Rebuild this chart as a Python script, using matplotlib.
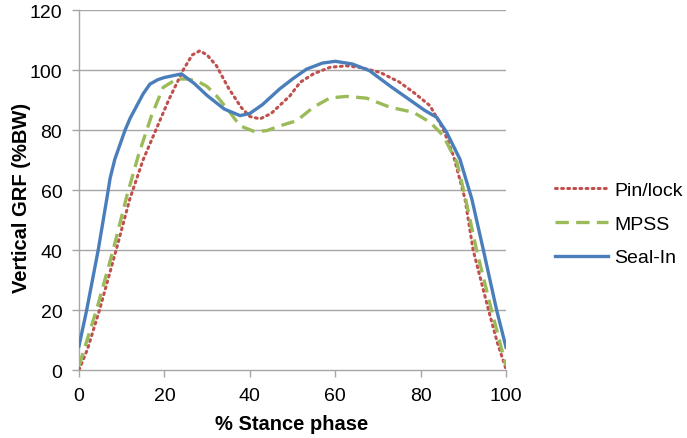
import matplotlib
matplotlib.use("Agg")
import matplotlib.pyplot as plt

plt.rcParams['font.family'] = ['Liberation Sans', 'DejaVu Sans']

# Seal-In (blue, solid)
seal_x = [0, 1.8, 4.5, 6.5, 7.3, 8.4, 10.8, 12, 13.5, 15, 16.6, 18.5, 20, 24, 27, 30, 34, 37.7, 40, 43, 47, 50, 53.3, 57, 60,
          64, 68, 73, 78.3, 81, 83.8, 86.1, 89.2, 92, 94.7, 97.8, 100]
seal_y = [8, 20, 40, 57, 64, 70.3, 80, 84, 88, 92, 95.3, 96.8, 97.5, 98.7, 95.5, 91.5, 87, 84.8, 85.5, 88.5, 93.7, 97, 100.3, 102.3, 102.9,
          102, 99.8, 94.5, 89.2, 86.5, 84.2, 79.2, 70.3, 57, 40, 20, 7.6]

# Pin/lock (red, dotted)
pin_x = [0, 2, 4.8, 8.7, 11.9, 15, 18, 21, 24.4, 26.5, 28.3, 30, 32.2, 35, 38, 40, 42.4, 45, 49.4, 51.8,
         55, 58.8, 62.7, 66, 70.5, 75, 78.3, 82.2, 85.3, 87.7, 90.4, 92.3, 95.9, 98, 100]
pin_y = [0, 7, 20, 40, 57, 70, 80, 90, 100, 105, 106.4, 105, 101.4, 94, 87.5, 84.5, 83.7, 85.5, 91.4, 95.9,
         98.8, 100.9, 101.4, 100.8, 99.2, 96, 92.6, 88.1, 80.3, 71.4, 57, 40, 20, 9, 0.3]

# MPSS (green, dashed)
mpss_x = [0, 4.1, 8, 11.2, 14, 17, 19.7, 22.9, 25, 27.6, 30, 32.2, 35, 37.7, 41.2, 44, 47.1, 51, 54.9, 58.8,
          62.7, 67.4, 72.8, 78.3, 82.2, 85.3, 88.5, 90.4, 93.1, 96.6, 100]
mpss_y = [1.4, 20, 40, 58, 72, 84.8, 94.2, 97, 97, 96.4, 94.5, 91.4, 86.5, 81.4, 79.4, 79.8, 81.4, 83.1, 87.6, 90.7,
          91.2, 90.6, 87.6, 85.9, 82.6, 78.1, 69.2, 58, 40, 20, 1.4]

x_ticks = [0, 20, 40, 60, 80, 100]
y_ticks = [0, 20, 40, 60, 80, 100, 120]

fig = plt.figure(figsize=(6.87, 4.39), dpi=100)
ax = fig.add_axes([79/687, 1 - 371/439, 427/687, 360/439])

grid_c = '#A6A6A6'
for y in y_ticks[1:]:
    ax.axhline(y, color=grid_c, lw=1.0, zorder=0)

h1, = ax.plot(pin_x, pin_y, color='#C0504D', lw=2.2, linestyle=(0, (0.6, 1.4)), dash_capstyle='round',
              label='Pin/lock', zorder=3)
h2, = ax.plot(mpss_x, mpss_y, color='#9BBB59', lw=2.4, linestyle=(0, (4, 2.2)), label='MPSS', zorder=3)
h3, = ax.plot(seal_x, seal_y, color='#4A7EBB', lw=2.4, linestyle='-', label='Seal-In', zorder=4)

ax.set_xlim(0, 100)
ax.set_ylim(0, 120)
ax.set_xticks(x_ticks)
ax.set_yticks(y_ticks)
ax.tick_params(axis='both', colors=grid_c, labelcolor='black', labelsize=14, length=5, width=1)
ax.tick_params(axis='x', pad=7)
ax.tick_params(axis='y', pad=7)
for s in ['top', 'right']:
    ax.spines[s].set_visible(False)
for s in ['left', 'bottom']:
    ax.spines[s].set_color(grid_c)
    ax.spines[s].set_linewidth(1.0)

ax.set_xlabel('% Stance phase', fontsize=14.5, fontweight='bold')
ax.set_ylabel('Vertical GRF (%BW)', fontsize=14.5, fontweight='bold')
ax.xaxis.set_label_coords(0.498, -(425 - 371) / 360)
ax.xaxis.label.set_verticalalignment('center')
ax.yaxis.set_label_coords((22 - 79) / 427, 0.48)
ax.yaxis.label.set_verticalalignment('center')

leg = fig.legend(handles=[h1, h2, h3], loc='center left', bbox_to_anchor=(555/687, 1 - 225/439),
                 frameon=False, fontsize=14, handlelength=2.75, labelspacing=0.82,
                 handletextpad=0.3, borderpad=0, borderaxespad=0)

fig.savefig('out.png', dpi=100)
